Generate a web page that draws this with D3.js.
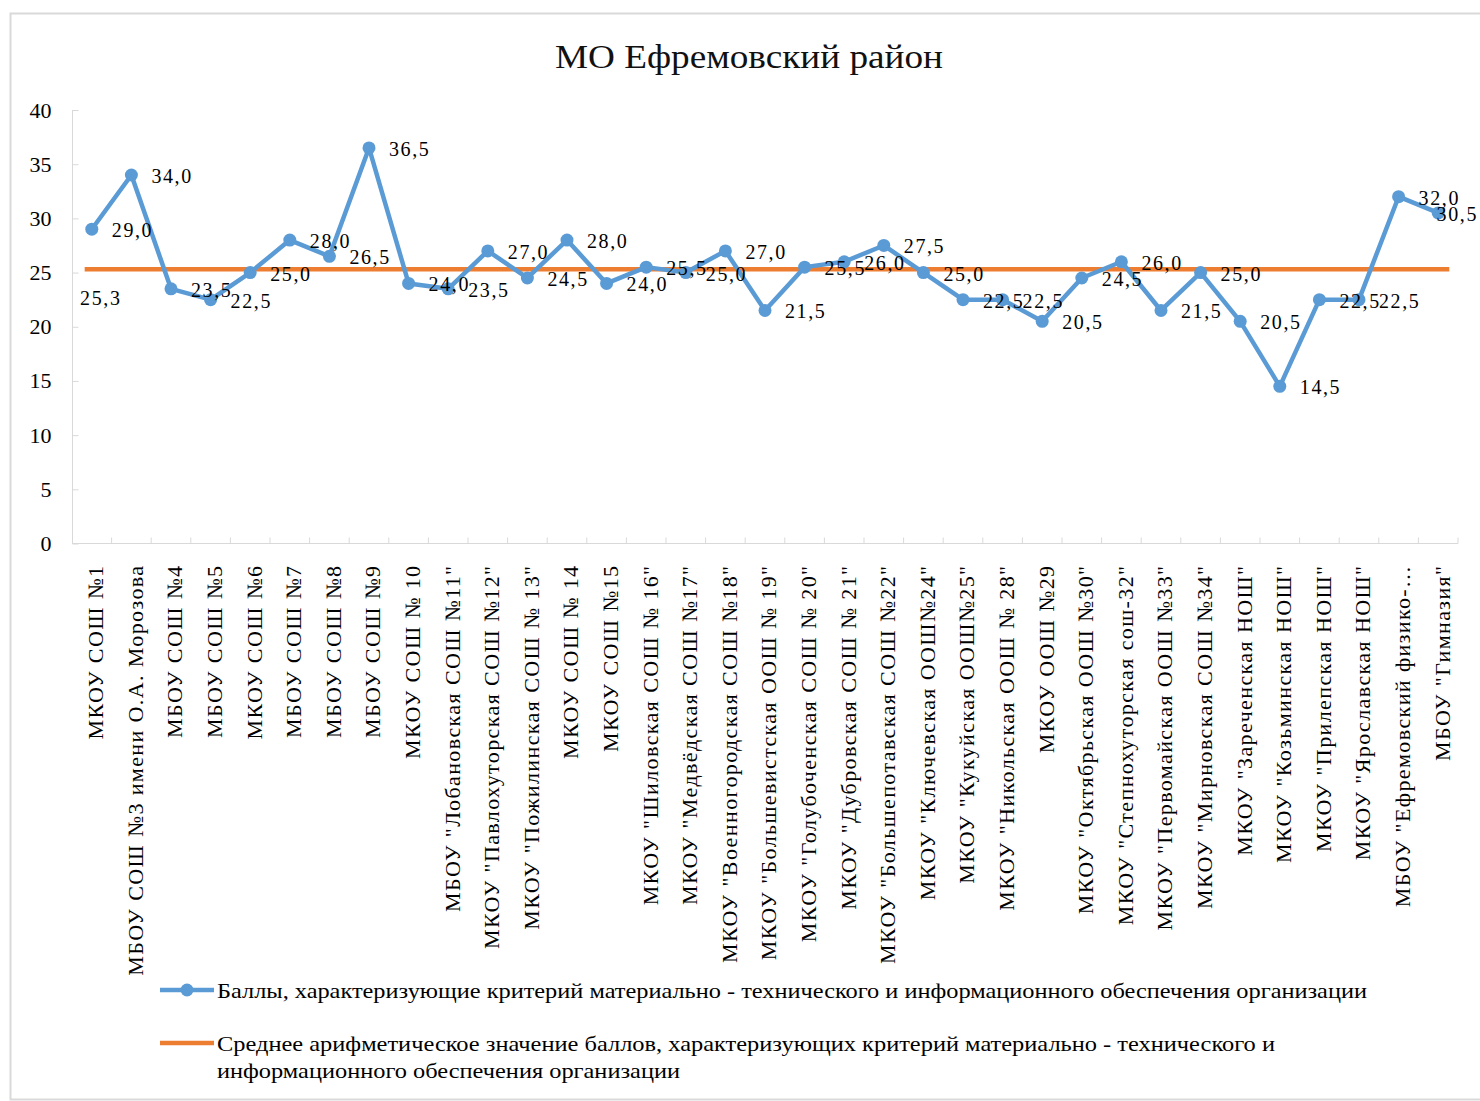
<!DOCTYPE html>
<html><head><meta charset="utf-8">
<script src="https://cdn.jsdelivr.net/npm/d3@7"></script>
<style>html,body{margin:0;padding:0;background:#fff;}svg{display:block;}</style>
</head><body>
<svg id="chart" width="1480" height="1101"></svg>
<script>
const title = "МО Ефремовский район";
const categories = [
  "МКОУ СОШ №1",
  "МБОУ СОШ №3 имени О.А. Морозова",
  "МБОУ СОШ №4",
  "МБОУ СОШ №5",
  "МКОУ СОШ №6",
  "МБОУ СОШ №7",
  "МБОУ СОШ №8",
  "МБОУ СОШ №9",
  "МКОУ СОШ № 10",
  "МБОУ \"Лобановская СОШ №11\"",
  "МКОУ \"Павлохуторская СОШ №12\"",
  "МКОУ \"Пожилинская СОШ № 13\"",
  "МКОУ СОШ № 14",
  "МКОУ СОШ №15",
  "МКОУ \"Шиловская СОШ № 16\"",
  "МКОУ \"Медвёдская СОШ №17\"",
  "МКОУ \"Военногородская СОШ №18\"",
  "МКОУ \"Большевистская ООШ № 19\"",
  "МКОУ \"Голубоченская СОШ № 20\"",
  "МКОУ \"Дубровская СОШ № 21\"",
  "МКОУ \"Большепотавская СОШ №22\"",
  "МКОУ \"Ключевская ООШ№24\"",
  "МКОУ \"Кукуйская ООШ№25\"",
  "МКОУ \"Никольская ООШ № 28\"",
  "МКОУ ООШ №29",
  "МКОУ \"Октябрьская ООШ №30\"",
  "МКОУ \"Степнохуторская сош-32\"",
  "МКОУ \"Первомайская ООШ №33\"",
  "МКОУ \"Мирновская СОШ №34\"",
  "МКОУ \"Зареченская НОШ\"",
  "МКОУ \"Козьминская НОШ\"",
  "МКОУ \"Прилепская НОШ\"",
  "МКОУ \"Ярославская НОШ\"",
  "МБОУ \"Ефремовский физико-…",
  "МБОУ \"Гимназия\""
];
const scores = [29.0, 34.0, 23.5, 22.5, 25.0, 28.0, 26.5, 36.5, 24.0, 23.5,
                27.0, 24.5, 28.0, 24.0, 25.5, 25.0, 27.0, 21.5, 25.5, 26.0,
                27.5, 25.0, 22.5, 22.5, 20.5, 24.5, 26.0, 21.5, 25.0, 20.5,
                14.5, 22.5, 22.5, 32.0, 30.5];
const average = 25.3;
const yTicks = [0, 5, 10, 15, 20, 25, 30, 35, 40];
const legendScores = "Баллы, характеризующие критерий  материально - технического и информационного обеспечения организации";
const legendAverage = ["Среднее арифметическое значение баллов, характеризующих  критерий  материально - технического и",
                       "информационного обеспечения организации"];

const BLUE = "#5b9bd5", ORANGE = "#ed7d31", GRID = "#d9d9d9";
const FONT = "'Liberation Serif','Times New Roman',serif";
const svg = d3.select("#chart");

svg.append("rect").attr("x", 0).attr("y", 0).attr("width", 1480).attr("height", 1101).attr("fill", "#fff");
svg.append("rect").attr("x", 10.5).attr("y", 13.5).attr("width", 1480).attr("height", 1086)
  .attr("fill", "none").attr("stroke", GRID).attr("stroke-width", 2);

svg.append("text").attr("x", 749).attr("y", 68).attr("text-anchor", "middle")
  .attr("font-family", FONT).attr("font-size", 33).attr("fill", "#111")
  .attr("textLength", 388).attr("lengthAdjust", "spacingAndGlyphs").text(title);

const x = d3.scaleBand().domain(categories).range([72, 1458]).padding(0);
const y = d3.scaleLinear().domain([0, 40]).range([543.5, 110]);
const bw = x.bandwidth();
const xc = c => x(c) + bw / 2;

// Y axis
const yAxis = svg.append("g").attr("transform", "translate(72.5,0)")
  .call(d3.axisLeft(y).tickValues(yTicks).tickSize(-6).tickPadding(21).tickFormat(d3.format("d")));
yAxis.selectAll("path,line").attr("stroke", GRID);
yAxis.select(".domain").attr("d", `M-0,${y(40)}V${y(0)}`);
yAxis.selectAll("text").attr("font-family", FONT).attr("font-size", 22).attr("fill", "#000");

// X axis
const xAxis = svg.append("g").attr("transform", `translate(0,${y(0)})`)
  .call(d3.axisBottom(x).tickSize(0).tickPadding(0));
xAxis.select(".domain").attr("stroke", GRID).attr("d", `M${x.range()[0]},0H${x.range()[1]}`);
xAxis.selectAll("text")
  .attr("font-family", FONT).attr("font-size", 22).attr("fill", "#000")
  .attr("letter-spacing", 1.4)
  .attr("transform", "rotate(-90)").attr("text-anchor", "end")
  .attr("x", -21).attr("y", 0).attr("dy", "0.52em");
// category boundary ticks (inward)
const bounds = categories.map(c => x(c)).concat([x(categories[categories.length - 1]) + bw]);
svg.append("g").selectAll("line").data(bounds.slice(1)).join("line")
  .attr("x1", d => d).attr("x2", d => d).attr("y1", y(0)).attr("y2", y(0) - 6)
  .attr("stroke", GRID);

// average line
svg.append("line")
  .attr("x1", xc(categories[0]) - bw * 0.18).attr("x2", xc(categories[categories.length - 1]) + bw * 0.28)
  .attr("y1", y(average)).attr("y2", y(average))
  .attr("stroke", ORANGE).attr("stroke-width", 4.5);

// scores line
const line = d3.line().x((d, i) => xc(categories[i])).y(d => y(d));
svg.append("path").datum(scores).attr("d", line).attr("fill", "none")
  .attr("stroke", BLUE).attr("stroke-width", 4.5).attr("stroke-linejoin", "round");
svg.append("g").selectAll("circle").data(scores).join("circle")
  .attr("cx", (d, i) => xc(categories[i])).attr("cy", d => y(d)).attr("r", 6.5).attr("fill", BLUE);

const fmt = v => d3.format(".1f")(v).replace(".", ",");
// data labels
const lbl = svg.append("g").attr("font-family", FONT).attr("font-size", 20).attr("fill", "#000")
  .attr("letter-spacing", 1.6);
lbl.selectAll("text").data(scores).join("text")
  .attr("y", d => y(d)).attr("dy", "0.4em")
  .text(d => fmt(d))
  .each(function (d, i) {
    const w = this.getComputedTextLength();
    let xx = xc(categories[i]) + 20;
    if (xx + w > 1478) xx = 1478 - w;
    d3.select(this).attr("x", xx);
  });
svg.append("text").attr("font-family", FONT).attr("font-size", 20).attr("letter-spacing", 1.6)
  .attr("x", xc(categories[0]) + 9).attr("y", y(average) + 28).attr("dy", "0.4em")
  .attr("text-anchor", "middle").text(fmt(average));

// legend
const lg = svg.append("g").attr("font-family", FONT).attr("font-size", 21).attr("fill", "#000");
lg.append("line").attr("x1", 160).attr("x2", 214).attr("y1", 990).attr("y2", 990)
  .attr("stroke", BLUE).attr("stroke-width", 4.5);
lg.append("circle").attr("cx", 187).attr("cy", 990).attr("r", 6.5).attr("fill", BLUE);
lg.append("text").attr("x", 217).attr("y", 998).attr("textLength", 1150)
  .attr("lengthAdjust", "spacingAndGlyphs").text(legendScores);
lg.append("line").attr("x1", 160).attr("x2", 214).attr("y1", 1043).attr("y2", 1043)
  .attr("stroke", ORANGE).attr("stroke-width", 4.5);
lg.append("text").attr("x", 217).attr("y", 1051).attr("textLength", 1058)
  .attr("lengthAdjust", "spacingAndGlyphs").text(legendAverage[0]);
lg.append("text").attr("x", 217).attr("y", 1078).attr("textLength", 463)
  .attr("lengthAdjust", "spacingAndGlyphs").text(legendAverage[1]);
</script>
</body></html>
